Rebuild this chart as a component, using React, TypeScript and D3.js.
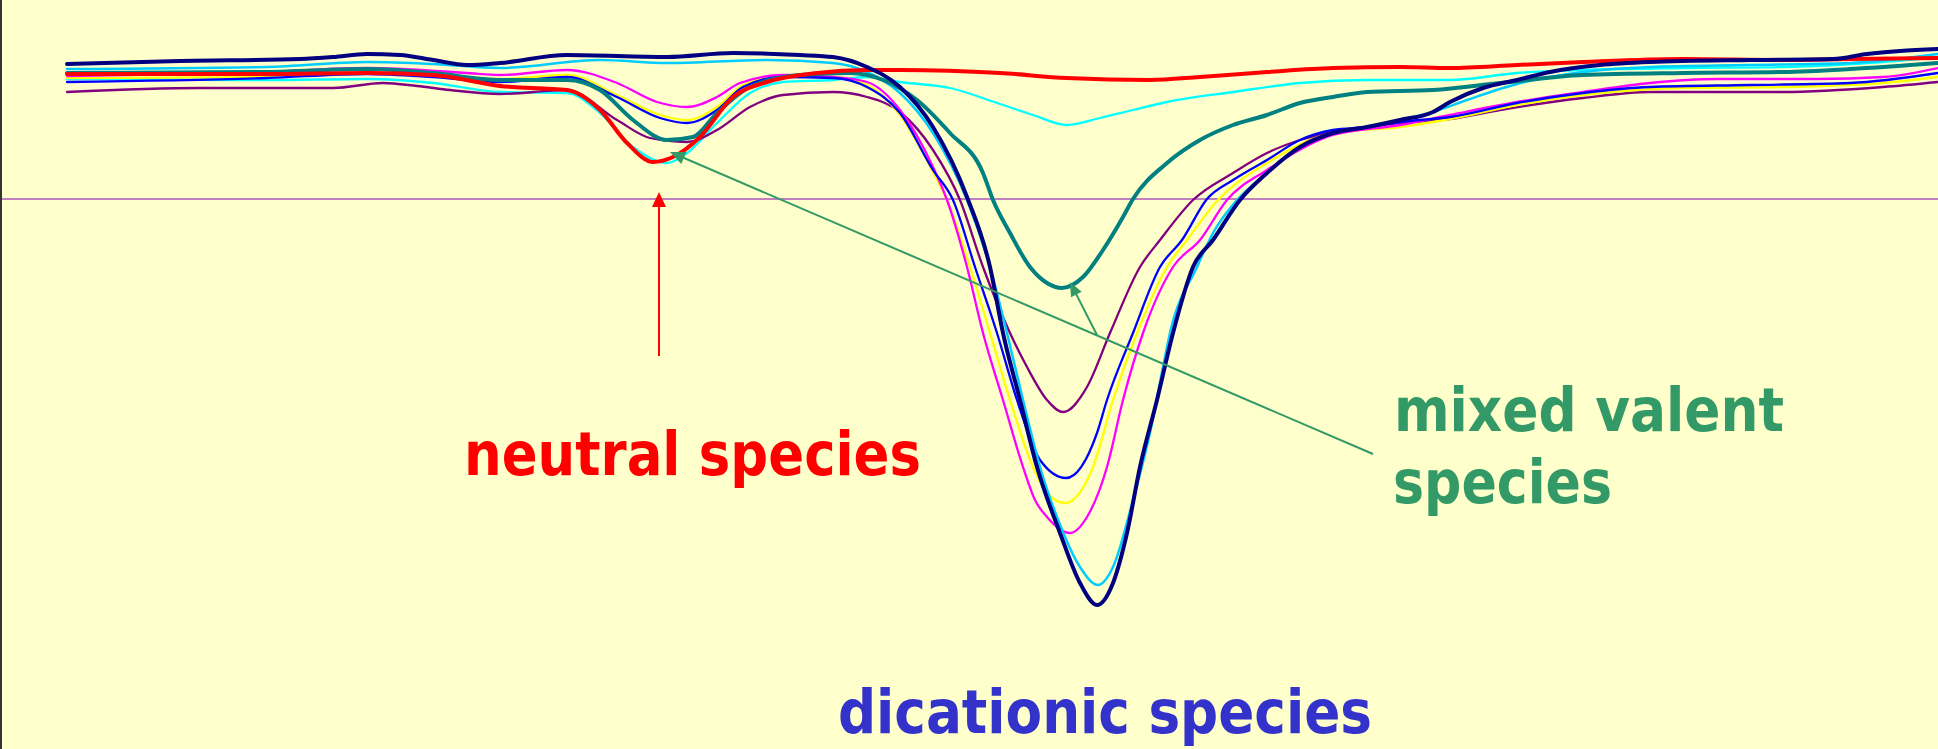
import React from 'react';
import * as d3 from 'd3';

type Pt = [number, number];

const W = 1938;
const H = 749;

// x: spectral channel (arbitrary units), y: signal (arbitrary units, higher = less absorption)
const X_DOMAIN: [number, number] = [0, 1871];
const Y_DOMAIN: [number, number] = [0, 560];

const redNeutral: Pt[] = [
  [0, 531], [200, 531], [300, 532], [366, 530], [433, 519], [500, 515], [533, 495], [560, 462],
  [586, 443], [606, 448], [633, 468], [666, 508], [700, 523], [750, 532], [800, 535], [833, 535],
  [933, 532], [1000, 527], [1083, 525], [1133, 528], [1200, 533], [1266, 537], [1333, 538],
  [1383, 537], [1450, 540], [1516, 543], [1616, 546], [1716, 545], [1783, 546], [1871, 547],
];

const cyanLine: Pt[] = [
  [0, 526], [200, 525], [300, 526], [366, 522], [433, 513], [500, 512], [533, 492], [566, 458],
  [600, 442], [620, 452], [650, 482], [683, 512], [716, 523], [766, 525], [800, 528], [833, 523],
  [883, 517], [933, 501], [966, 490], [1000, 480], [1033, 487], [1066, 495], [1100, 503],
  [1166, 513], [1233, 522], [1300, 525], [1383, 525], [1450, 532], [1516, 535], [1616, 537],
  [1716, 538], [1816, 543], [1871, 548],
];

const tealMixed: Pt[] = [
  [0, 532], [200, 533], [300, 536], [366, 532], [433, 525], [500, 525], [533, 515], [566, 485],
  [600, 465], [626, 468], [650, 492], [683, 518], [733, 530], [783, 532], [816, 525], [850, 505],
  [883, 472], [916, 432], [926, 405], [943, 372], [963, 338], [980, 322], [995, 317], [1016, 328],
  [1036, 355], [1056, 388], [1066, 406], [1100, 442], [1133, 465], [1166, 480], [1200, 490],
  [1233, 502], [1266, 508], [1300, 513], [1366, 515], [1433, 522], [1516, 530], [1616, 532],
  [1716, 533], [1783, 536], [1871, 542],
];

const purpleLine: Pt[] = [
  [0, 513], [133, 517], [266, 517], [316, 522], [350, 519], [383, 515], [433, 511], [500, 515],
  [550, 485], [583, 467], [620, 463], [650, 475], [683, 498], [716, 510], [766, 513], [800, 508],
  [833, 493], [866, 455], [893, 405], [916, 338], [943, 272], [960, 238], [980, 205], [996, 193],
  [1020, 218], [1043, 272], [1073, 338], [1093, 365], [1126, 405], [1166, 432], [1200, 452],
  [1233, 465], [1266, 473], [1300, 478], [1333, 482], [1383, 486], [1433, 495], [1516, 507],
  [1583, 513], [1716, 513], [1816, 518], [1871, 523],
];

const blueLine: Pt[] = [
  [0, 523], [200, 527], [300, 531], [366, 528], [433, 523], [500, 528], [550, 508], [593, 487],
  [620, 482], [650, 495], [676, 518], [716, 528], [766, 527], [800, 518], [833, 492], [866, 435],
  [886, 405], [908, 338], [930, 272], [950, 205], [973, 145], [999, 127], [1030, 172], [1040, 205],
  [1066, 272], [1093, 338], [1115, 365], [1140, 406], [1166, 425], [1200, 445], [1233, 465],
  [1266, 475], [1300, 478], [1333, 483], [1383, 488], [1450, 502], [1516, 512], [1583, 518],
  [1683, 520], [1783, 522], [1871, 532],
];

const yellowLine: Pt[] = [
  [0, 527], [200, 528], [300, 532], [400, 528], [433, 526], [500, 530], [550, 510], [593, 490],
  [620, 485], [650, 498], [676, 520], [716, 529], [766, 528], [800, 520], [833, 490], [866, 433],
  [880, 405], [903, 338], [923, 272], [943, 205], [966, 138], [980, 112], [998, 102], [1026, 138],
  [1046, 205], [1070, 272], [1100, 338], [1120, 365], [1151, 405], [1200, 442], [1266, 472],
  [1333, 478], [1383, 486], [1450, 500], [1516, 510], [1616, 517], [1716, 518], [1816, 522],
  [1871, 528],
];

const magentaLine: Pt[] = [
  [0, 529], [200, 533], [300, 537], [400, 532], [433, 530], [500, 535], [550, 522], [590, 503],
  [620, 498], [650, 508], [673, 522], [716, 530], [766, 528], [800, 523], [833, 495], [866, 438],
  [880, 405], [900, 338], [916, 272], [936, 205], [956, 138], [968, 105], [980, 88], [1003, 72],
  [1020, 88], [1040, 138], [1056, 205], [1076, 272], [1106, 338], [1133, 365], [1160, 405],
  [1200, 435], [1266, 470], [1333, 480], [1383, 490], [1450, 503], [1516, 513], [1583, 522],
  [1650, 526], [1750, 526], [1816, 528], [1871, 537],
];

const skyLine: Pt[] = [
  [0, 536], [200, 538], [300, 543], [366, 541], [433, 537], [533, 545], [600, 542], [700, 545],
  [766, 542], [800, 533], [833, 512], [866, 472], [900, 405], [923, 338], [940, 272], [956, 205],
  [973, 138], [990, 88], [1013, 38], [1031, 20], [1046, 38], [1066, 105], [1083, 172], [1096, 238],
  [1103, 272], [1130, 338], [1146, 372], [1170, 405], [1200, 432], [1233, 458], [1266, 472],
  [1300, 478], [1333, 485], [1366, 493], [1400, 505], [1450, 521], [1516, 533], [1583, 538],
  [1683, 540], [1783, 542], [1871, 551],
];

const navyDication: Pt[] = [
  [0, 541], [113, 544], [233, 546], [266, 548], [300, 551], [333, 550], [366, 545], [400, 540],
  [433, 542], [500, 550], [600, 548], [666, 552], [733, 550], [766, 548], [800, 538], [833, 518],
  [866, 478], [900, 408], [923, 338], [936, 272], [953, 205], [970, 138], [993, 72], [1013, 22],
  [1030, 0], [1046, 22], [1060, 72], [1073, 138], [1090, 205], [1106, 272], [1126, 338],
  [1146, 365], [1173, 405], [1200, 432], [1233, 458], [1266, 472], [1300, 478], [1333, 485],
  [1366, 493], [1383, 503], [1416, 517], [1450, 525], [1483, 533], [1533, 540], [1583, 543],
  [1683, 545], [1766, 546], [1800, 551], [1833, 554], [1871, 556],
];

// reference level (horizontal line)
const REF_LEVEL = 406;

// annotation anchor points in data units
const neutralArrow: { tail: Pt; tip: Pt } = { tail: [592, 249], tip: [592, 413] };
const mixedArrowLong: { tail: Pt; tip: Pt } = { tail: [1306, 151], tip: [603, 453] };
const mixedArrowShort: { tail: Pt; tip: Pt } = { tail: [1030, 270], tip: [1003, 323] };

const SERIES = [
  { key: 'cyan', color: '#00FFFF', width: 2.3, data: cyanLine },
  { key: 'purple', color: '#800080', width: 2.3, data: purpleLine },
  { key: 'yellow', color: '#FFFF00', width: 2.3, data: yellowLine },
  { key: 'magenta', color: '#FF00FF', width: 2.3, data: magentaLine },
  { key: 'blue', color: '#0000FF', width: 2.3, data: blueLine },
  { key: 'sky', color: '#00CCFF', width: 2.5, data: skyLine },
  { key: 'teal', color: '#008080', width: 4, data: tealMixed },
  { key: 'red', color: '#FF0000', width: 4, data: redNeutral },
  { key: 'navy', color: '#000080', width: 4, data: navyDication },
];

const FONT = "'DejaVu Sans Condensed', 'DejaVu Sans', Verdana, sans-serif";

function Arrow({ x1, y1, x2, y2, color, width, headLen, headW }: {
  x1: number; y1: number; x2: number; y2: number; color: string; width: number; headLen: number; headW: number;
}) {
  const dx = x2 - x1;
  const dy = y2 - y1;
  const len = Math.hypot(dx, dy);
  const ux = dx / len;
  const uy = dy / len;
  const nx = -uy;
  const ny = ux;
  const bx = x2 - ux * headLen;
  const by = y2 - uy * headLen;
  const pts = [
    [x2, y2],
    [bx + nx * headW / 2, by + ny * headW / 2],
    [bx - nx * headW / 2, by - ny * headW / 2],
  ].map((p) => p.join(',')).join(' ');
  return (
    <g>
      <line x1={x1} y1={y1} x2={bx + ux * 1} y2={by + uy * 1} stroke={color} strokeWidth={width} />
      <polygon points={pts} fill={color} />
    </g>
  );
}

export default function App() {
  const x = d3.scaleLinear().domain(X_DOMAIN).range([67, 1938]);
  const y = d3.scaleLinear().domain(Y_DOMAIN).range([605, 45]);
  const line = d3.line<Pt>().x((d) => x(d[0])).y((d) => y(d[1])).curve(d3.curveMonotoneX);

  const textStyle = { fontFamily: FONT, fontWeight: 700, fontSize: 61 } as React.CSSProperties;

  return (
    <svg
      width={W}
      height={H}
      viewBox={`0 0 ${W} ${H}`}
      style={{ position: 'absolute', left: 0, top: 0, display: 'block' }}
    >
      <rect x={0} y={0} width={W} height={H} fill="#FFFFCC" />
      <rect x={0} y={0} width={2} height={H} fill="#333333" />
      <line x1={2} x2={W} y1={y(REF_LEVEL)} y2={y(REF_LEVEL)} stroke="#C080C0" strokeWidth={2} />

      {SERIES.map((s) => (
        <path
          key={s.key}
          d={line(s.data) || ''}
          fill="none"
          stroke={s.color}
          strokeWidth={s.width}
          strokeLinejoin="round"
          strokeLinecap="round"
        />
      ))}

      <Arrow
        x1={x(neutralArrow.tail[0])} y1={y(neutralArrow.tail[1])}
        x2={x(neutralArrow.tip[0])} y2={y(neutralArrow.tip[1])}
        color="#FF0000" width={2} headLen={15} headW={14}
      />
      <Arrow
        x1={x(mixedArrowLong.tail[0])} y1={y(mixedArrowLong.tail[1])}
        x2={x(mixedArrowLong.tip[0])} y2={y(mixedArrowLong.tip[1])}
        color="#339966" width={2} headLen={15} headW={13}
      />
      <Arrow
        x1={x(mixedArrowShort.tail[0])} y1={y(mixedArrowShort.tail[1])}
        x2={x(mixedArrowShort.tip[0])} y2={y(mixedArrowShort.tip[1])}
        color="#339966" width={2} headLen={14} headW={12}
      />

      <text x={464} y={475} fill="#FF0000" style={textStyle} textLength={457} lengthAdjust="spacingAndGlyphs">
        neutral species
      </text>
      <text x={1394} y={431} fill="#339966" style={textStyle} textLength={390} lengthAdjust="spacingAndGlyphs">
        mixed valent
      </text>
      <text x={1393} y={503} fill="#339966" style={textStyle} textLength={219} lengthAdjust="spacingAndGlyphs">
        species
      </text>
      <text x={838} y={733} fill="#3333CC" style={textStyle} textLength={534} lengthAdjust="spacingAndGlyphs">
        dicationic species
      </text>
    </svg>
  );
}
